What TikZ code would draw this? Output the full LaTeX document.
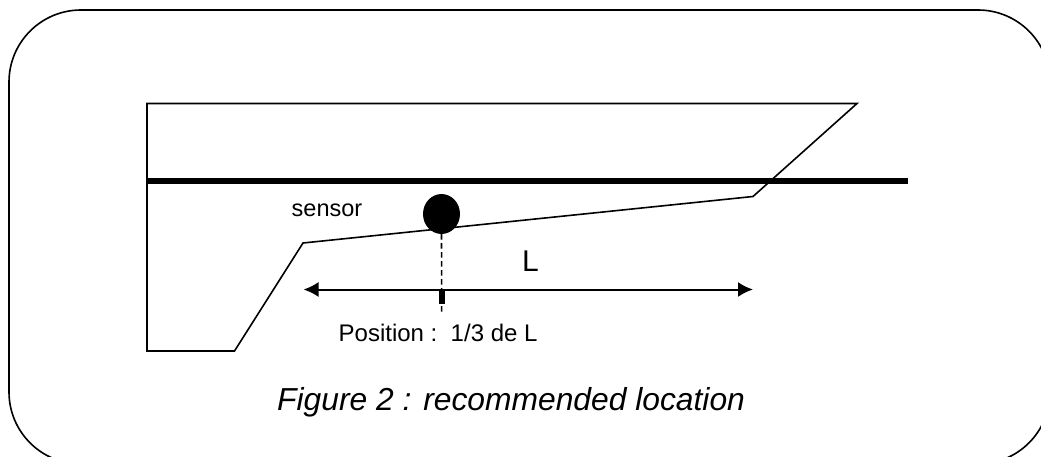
\documentclass[tikz,border=0pt]{standalone}
\usepackage{fontspec}
\setmainfont{Liberation Sans}
\usetikzlibrary{arrows.meta}
\tikzset{
  px/.style={x=1pt,y=-1pt},
  outline/.style={draw=black,line width=1.6pt},
  thinline/.style={draw=black,line width=1.6pt,line join=miter},
  thick bar/.style={draw=black,line width=6pt},
  dim/.style={draw=black,line width=2pt,{Latex[length=15pt,width=15pt]}-{Latex[length=15pt,width=15pt]}},
  lbl/.style={inner sep=0pt,font=\fontsize{24pt}{26pt}\selectfont,text=black}
}
\begin{document}
\begin{tikzpicture}[px]
\useasboundingbox (0,0) rectangle (1041,457);
\clip (0,0) rectangle (1041,457);
\draw[outline,rounded corners=72pt] (9,10) rectangle (1050,464);
\draw[thinline] (147,103.5) -- (857,103.5) -- (753,196.5) -- (303,243) -- (234.5,351) -- (147,351) -- cycle;
\coordinate (barL) at (147,181);
\coordinate (barR) at (908,181);
\draw[thick bar] (barL) -- (barR);
\node[circle,fill=black,inner sep=0pt,minimum width=37pt,minimum height=37pt,yscale=1.08] (sensor) at (441.5,214) {};
\coordinate (dimL) at (303.5,289.5);
\coordinate (dimR) at (753,289.5);
\draw[dim] (dimL) -- (dimR);
\coordinate (dashEnd) at (441.7,314);
\draw[black,line width=1.6pt,dash pattern=on 5.5pt off 3.5pt] (sensor.south) -- (dashEnd);
\fill[black] (438.5,289.5) rectangle (444.5,304);
\node[lbl,anchor=base west,font=\fontsize{23.5pt}{26pt}\selectfont] (s) at (291.5,217) {sensor};
\node[lbl,anchor=base,font=\fontsize{30pt}{32pt}\selectfont] (L) at (530.5,271.5) {L};
\node[lbl,anchor=base west] (p) at (338.5,341) {Position :\ \ 1/3 de L};
\node[lbl,anchor=base west,font=\fontsize{31.8pt}{34pt}\selectfont\itshape] (c) at (277,410.7) {Figure 2 : recommended location};
\end{tikzpicture}
\end{document}
